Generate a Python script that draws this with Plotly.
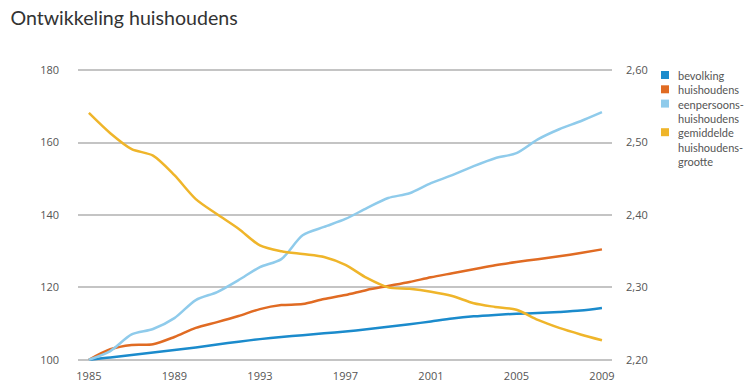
import plotly.graph_objects as go

years = list(range(1985, 2010))

bevolking = [100, 100.6, 101.3, 102.0, 102.7, 103.4, 104.2, 105.0, 105.7, 106.3, 106.8,
             107.3, 107.8, 108.4, 109.1, 109.8, 110.6, 111.4, 112.0, 112.4, 112.7,
             112.9, 113.2, 113.6, 114.3]
huishoudens = [100, 102.9, 104.1, 104.3, 106.3, 108.8, 110.4, 112.1, 114.0, 115.1, 115.4,
               116.8, 117.9, 119.3, 120.4, 121.5, 122.8, 123.9, 125.0, 126.1, 127.0,
               127.8, 128.6, 129.5, 130.5]
eenpersoons = [100, 102.4, 107.0, 108.5, 111.5, 116.5, 118.7, 122.0, 125.6, 127.8, 134.4,
               136.7, 138.9, 141.9, 144.7, 146.0, 148.8, 151.0, 153.5, 155.7, 157.1,
               160.9, 163.7, 165.9, 168.4]
gemiddelde = [2.541, 2.513, 2.491, 2.482, 2.455, 2.422, 2.401, 2.381, 2.358, 2.350, 2.346,
              2.342, 2.331, 2.313, 2.300, 2.298, 2.294, 2.288, 2.278, 2.273, 2.269,
              2.255, 2.244, 2.235, 2.227]

legend_lines = [["bevolking"], ["huishoudens"], ["eenpersoons-", "huishoudens"],
                ["gemiddelde", "huishoudens-", "grootte"]]
colors = ["#1b8bcc", "#e06b23", "#8fcbeb", "#efb52a"]
series = [bevolking, huishoudens, eenpersoons, gemiddelde]
axes = ["y", "y", "y", "y2"]

x_ticks = [1985, 1989, 1993, 1997, 2001, 2005, 2009]
y_ticks = [100, 120, 140, 160, 180]
y2_ticks = [2.20, 2.30, 2.40, 2.50, 2.60]

W, H = 745, 385
ML, MR, MT, MB = 78, 133, 63, 18

def px_x(px):
    return (px - ML) / (W - ML - MR)

def px_y(py):
    return (H - MB - py) / (H - MT - MB)

fig = go.Figure()
for vals, col, ax in zip(series, colors, axes):
    fig.add_trace(go.Scatter(x=years, y=vals, mode="lines", yaxis=ax,
                             line=dict(color=col, width=2.5, shape="spline", smoothing=0.8),
                             showlegend=False, hoverinfo="skip"))

# legend (manual, to match the compact layout of the original)
line_h = 14.3
first_y = 75
all_lines = []
shapes = []
for lines, col in zip(legend_lines, colors):
    cy = first_y + line_h * len(all_lines)
    shapes.append(dict(type="rect", xref="paper", yref="paper",
                       x0=px_x(661), x1=px_x(669), y0=px_y(cy + 4), y1=px_y(cy - 4),
                       fillcolor=col, line=dict(width=0)))
    all_lines.extend(lines)

fig.add_annotation(text="<br>".join(all_lines), xref="paper", yref="paper",
                   x=px_x(676), y=px_y(first_y - 8.5), xanchor="left", yanchor="top",
                   align="left", showarrow=False,
                   font=dict(family="Lato", size=11, color="#555555"))

fig.update_layout(
    width=W, height=H,
    margin=dict(l=ML, r=MR, t=MT, b=MB, autoexpand=False),
    paper_bgcolor="white", plot_bgcolor="white",
    separators=", ",
    showlegend=False,
    shapes=shapes,
    font=dict(family="Open Sans", size=11, color="#555555"),
    title=dict(text="Ontwikkeling huishoudens", x=0.014, xanchor="left",
               y=0.952, yanchor="middle",
               font=dict(family="Lato", size=19.6, color="#333333")),
    xaxis=dict(range=[1984.49, 2009.47], tickvals=x_ticks, showgrid=False,
               zeroline=False, showline=False, ticks="", ticklabelstandoff=1,
               tickfont=dict(size=11, color="#555555")),
    yaxis=dict(range=[98, 182], tickvals=y_ticks, showgrid=True,
               gridcolor="#c4c4c4", gridwidth=1.5, zeroline=False, showline=False,
               ticks="", ticklabelstandoff=18, tickfont=dict(size=11, color="#555555")),
    yaxis2=dict(range=[2.19, 2.61], tickvals=y2_ticks, tickformat=".2f",
                overlaying="y", side="right", showgrid=False, zeroline=False,
                showline=False, ticks="", ticklabelstandoff=13,
                tickfont=dict(size=11, color="#555555")),
)

fig.write_html("out.html")
